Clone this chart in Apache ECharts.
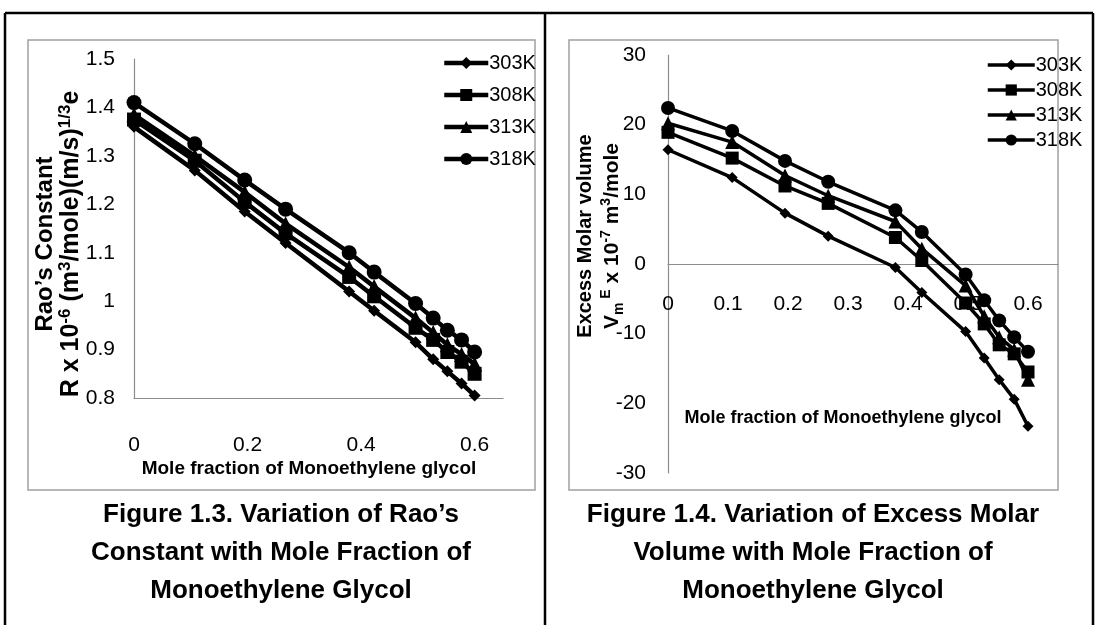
<!DOCTYPE html>
<html>
<head>
<meta charset="utf-8">
<script src="https://cdn.jsdelivr.net/npm/echarts@6/dist/echarts.min.js"></script>
<style>
  html, body { margin: 0; padding: 0; background: #fff; }
  #main { width: 1097px; height: 625px; }
</style>
</head>
<body>
<div id="main"></div>
<script>
// mole fraction of monoethylene glycol (shared by both figures)
var moleFraction = [0, 0.107, 0.195, 0.267, 0.379, 0.423, 0.496, 0.527, 0.552, 0.577, 0.6];
var seriesNames = ['303K', '308K', '313K', '318K'];

// Figure 1.3 - Rao's constant
var rao303 = [1.360, 1.270, 1.185, 1.120, 1.020, 0.980, 0.915, 0.880, 0.855, 0.830, 0.805];
var rao308 = [1.375, 1.290, 1.205, 1.140, 1.050, 1.010, 0.945, 0.920, 0.895, 0.875, 0.850];
var rao313 = [1.385, 1.300, 1.225, 1.160, 1.070, 1.030, 0.965, 0.935, 0.910, 0.890, 0.870];
var rao318 = [1.410, 1.325, 1.250, 1.190, 1.100, 1.060, 0.995, 0.965, 0.940, 0.920, 0.895];

// Figure 1.4 - excess molar volume
var vol303 = [16.4, 12.4, 7.3, 4.0, -0.5, -4.1, -9.7, -13.5, -16.6, -19.4, -23.3];
var vol308 = [18.9, 15.2, 11.2, 8.7, 3.8, 0.5, -5.6, -8.6, -11.6, -12.9, -15.5];
var vol313 = [20.2, 17.5, 12.7, 9.8, 6.1, 2.2, -3.1, -7.5, -10.5, -12.3, -16.6];
var vol318 = [22.4, 19.1, 14.8, 11.8, 7.7, 4.6, -1.5, -5.2, -8.1, -10.5, -12.6];

var raoTicks = { min: 0.8, max: 1.5, interval: 0.1 };
var volTicks = { min: -30, max: 30, interval: 10 };

var symbols = ['diamond', 'rect', 'triangle', 'circle'];
var symbolSizes = [11, 13, 14, 14];

function pairs(ys) {
    return moleFraction.map(function (x, i) { return [x, ys[i]]; });
}

var plain = '"Liberation Sans", Arial, sans-serif';

var chart = echarts.init(document.getElementById('main'));

var series = [];
[rao303, rao308, rao313, rao318].forEach(function (d, i) {
    series.push({
        name: seriesNames[i], type: 'line', xAxisIndex: 0, yAxisIndex: 0,
        data: pairs(d), symbol: symbols[i], symbolSize: symbolSizes[i] + 1,
        lineStyle: { color: '#000', width: 4.5 }, itemStyle: { color: '#000' },
        animation: false
    });
});
[vol303, vol308, vol313, vol318].forEach(function (d, i) {
    series.push({
        name: seriesNames[i], type: 'line', xAxisIndex: 1, yAxisIndex: 1,
        data: pairs(d), symbol: symbols[i], symbolSize: symbolSizes[i],
        lineStyle: { color: '#000', width: 3.5 }, itemStyle: { color: '#000' },
        animation: false
    });
});

var axisGray = { lineStyle: { color: '#8c8c8c', width: 1.2 } };
var tickFont = { color: '#000', fontSize: 21, fontFamily: plain };

var option = {
    backgroundColor: '#fff',
    grid: [
        { left: 134, top: 59, width: 369, height: 339 },
        { left: 668, top: 55, width: 390, height: 418 }
    ],
    xAxis: [
        {
            gridIndex: 0, type: 'value', min: 0, max: 0.65, interval: 0.2,
            axisLine: axisGray, axisTick: { show: false }, splitLine: { show: false },
            axisLabel: Object.assign({ showMaxLabel: false, margin: 37 }, tickFont)
        },
        {
            // the axis sits on the zero line of the value axis
            gridIndex: 1, type: 'value', min: 0, max: 0.65, interval: 0.1,
            offset: -209,
            axisLine: Object.assign({ onZero: false }, axisGray), axisTick: { show: false }, splitLine: { show: false },
            axisLabel: Object.assign({ showMaxLabel: false, margin: 30 }, tickFont)
        }
    ],
    yAxis: [
        {
            gridIndex: 0, type: 'value', min: raoTicks.min, max: raoTicks.max, interval: raoTicks.interval,
            axisLine: Object.assign({ show: true }, axisGray), axisTick: { show: false }, splitLine: { show: false },
            axisLabel: Object.assign({ margin: 19 }, tickFont)
        },
        {
            gridIndex: 1, type: 'value', min: volTicks.min, max: volTicks.max, interval: volTicks.interval,
            axisLine: Object.assign({ show: true }, axisGray), axisTick: { show: false }, splitLine: { show: false },
            axisLabel: Object.assign({ margin: 22 }, tickFont)
        }
    ],
    legend: [
        {
            left: 437, top: 48, orient: 'vertical', itemWidth: 44, itemHeight: 15, itemGap: 12,
            data: seriesNames, lineStyle: { width: 4.5 },
            textStyle: { color: '#000', fontSize: 20, fontFamily: plain, padding: [0, 0, 0, -4] },
            selectedMode: false
        },
        {
            left: 981, top: 50, orient: 'vertical', itemWidth: 47, itemHeight: 14, itemGap: 5,
            data: seriesNames, lineStyle: { width: 3.5 },
            textStyle: { color: '#000', fontSize: 20, fontFamily: plain, padding: [0, 0, 0, -4] },
            selectedMode: false
        }
    ],
    graphic: [
        // page borders
        { type: 'line', shape: { x1: 5, y1: 13, x2: 1093, y2: 13 }, style: { stroke: '#000', lineWidth: 2.5 } },
        { type: 'line', shape: { x1: 5, y1: 13, x2: 5, y2: 625 }, style: { stroke: '#000', lineWidth: 2.5 } },
        { type: 'line', shape: { x1: 545, y1: 13, x2: 545, y2: 625 }, style: { stroke: '#000', lineWidth: 2.5 } },
        { type: 'line', shape: { x1: 1093, y1: 13, x2: 1093, y2: 625 }, style: { stroke: '#000', lineWidth: 2.5 } },
        // chart frames
        { type: 'rect', shape: { x: 28, y: 40, width: 507, height: 450 }, style: { fill: null, stroke: '#a0a0a0', lineWidth: 1.5 } },
        { type: 'rect', shape: { x: 569, y: 40, width: 489, height: 450 }, style: { fill: null, stroke: '#a0a0a0', lineWidth: 1.5 } },
        // axis titles
        {
            type: 'text', x: 309, y: 469,
            style: { text: 'Mole fraction of Monoethylene glycol', fill: '#000', align: 'center', verticalAlign: 'middle',
                font: 'bold 19px "Liberation Sans", sans-serif' }
        },
        {
            type: 'text', x: 843, y: 418,
            style: { text: 'Mole fraction of Monoethylene glycol', fill: '#000', align: 'center', verticalAlign: 'middle',
                font: 'bold 18px "Liberation Sans", sans-serif' }
        },
        {
            type: 'text', x: 57, y: 244, rotation: Math.PI / 2,
            style: {
                text: '{a|Rao\u2019s Constant}\n{b|R x 10}{s|-6}{b| (m}{s|3}{b|/mole)(m/s)}{s|1/3}{b|e}',
                align: 'center', verticalAlign: 'middle', fill: '#000',
                rich: {
                    a: { fontSize: 24, fontWeight: 'bold', fontFamily: plain, lineHeight: 27, verticalAlign: 'bottom', fill: '#000' },
                    b: { fontSize: 25, fontWeight: 'bold', fontFamily: plain, lineHeight: 27, verticalAlign: 'bottom', fill: '#000' },
                    s: { fontSize: 17, fontWeight: 'bold', fontFamily: plain, lineHeight: 27, verticalAlign: 'top', fill: '#000' }
                }
            }
        },
        {
            type: 'text', x: 599, y: 236, rotation: Math.PI / 2,
            style: {
                text: '{a|Excess Molar volume}\n{b|V}{u|m}{s| E}{b| x 10}{s|-7}{b| m}{s|3}{b|/mole}',
                align: 'center', verticalAlign: 'middle', fill: '#000',
                rich: {
                    a: { fontSize: 20, fontWeight: 'bold', fontFamily: plain, lineHeight: 27, verticalAlign: 'middle', fill: '#000' },
                    b: { fontSize: 21, fontWeight: 'bold', fontFamily: plain, lineHeight: 27, verticalAlign: 'middle', fill: '#000' },
                    s: { fontSize: 14, fontWeight: 'bold', fontFamily: plain, lineHeight: 27, verticalAlign: 'top', fill: '#000' },
                    u: { fontSize: 14, fontWeight: 'bold', fontFamily: plain, lineHeight: 27, verticalAlign: 'bottom', fill: '#000' }
                }
            }
        },
        // figure captions
        {
            type: 'text', x: 281, y: 496,
            style: { text: 'Figure 1.3. Variation of Rao\u2019s\nConstant with Mole Fraction of\nMonoethylene Glycol',
                align: 'center', verticalAlign: 'top', fill: '#000', lineHeight: 38,
                font: 'bold 26px "Liberation Sans", Arial, sans-serif' }
        },
        {
            type: 'text', x: 813, y: 496,
            style: { text: 'Figure 1.4. Variation of Excess Molar\nVolume with Mole Fraction of\nMonoethylene Glycol',
                align: 'center', verticalAlign: 'top', fill: '#000', lineHeight: 38,
                font: 'bold 26px "Liberation Sans", Arial, sans-serif' }
        }
    ],
    series: series
};

chart.setOption(option);
</script>
</body>
</html>
